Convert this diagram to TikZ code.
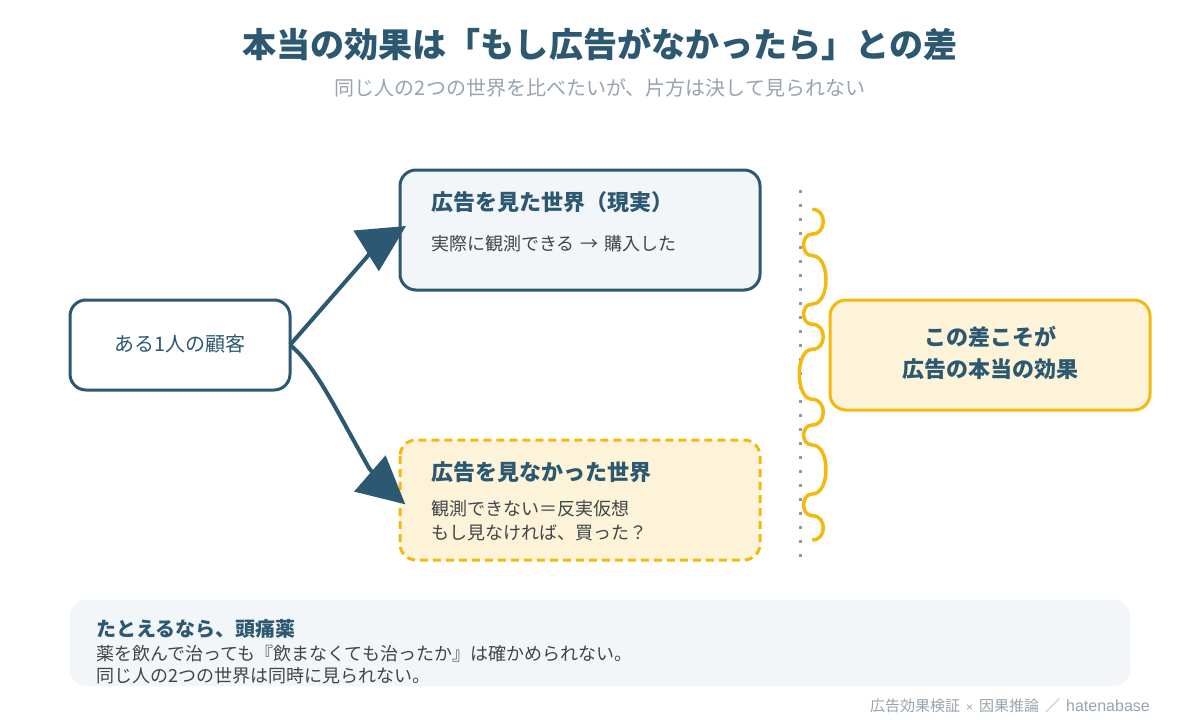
\documentclass[tikz,border=0pt]{standalone}
\usepackage{fontspec}
\setmainfont{Noto Sans CJK JP}
\newfontfamily\latinfoot{Liberation Sans}
\usetikzlibrary{arrows.meta}
\definecolor{navy}{HTML}{2C5871}
\definecolor{amber}{HTML}{F4B90F}
\definecolor{cream}{HTML}{FCF3D9}
\definecolor{mist}{HTML}{F3F6F8}
\definecolor{ink}{HTML}{404549}
\definecolor{subgray}{HTML}{98A4AD}
\definecolor{dotgray}{HTML}{8E9BA5}
\tikzset{
  x=1pt,y=-1pt,
  box/.style={rounded corners=16pt,line width=3pt,inner sep=0pt},
  txt/.style={anchor=base west,inner sep=0pt,text=ink,font=\fontsize{18}{18}\selectfont},
  head/.style={anchor=base west,inner sep=0pt,text=navy,font=\fontsize{22}{22}\selectfont\bfseries},
  keytxt/.style={anchor=base,inner sep=0pt,text=navy,font=\fontsize{22}{22}\selectfont\bfseries},
  link/.style={draw=navy,line width=4pt,-{Triangle[length=47pt,width=47pt,fill=navy]}},
}
\newcommand{\bulge}[3]{.. controls (812.3+#3*1.333,#1) and (812.3+#3*1.333,#2) .. (812.3,#2)}
\begin{document}
\begin{tikzpicture}
\useasboundingbox (0,0) rectangle (1200,720);
\fill[white] (0,0) rectangle (1200,720);
\node[anchor=base,inner sep=0pt,text=navy,font=\fontsize{34.1}{34}\selectfont\bfseries] (title) at (600,57) {本当の効果は「もし広告がなかったら」との差};
\node[anchor=base,inner sep=0pt,text=subgray,font=\fontsize{20}{20}\selectfont] (sub) at (600,95) {同じ人の2つの世界を比べたいが、片方は決して見られない};

\draw[box,draw=navy,fill=white] (70,300) rectangle (290,390);
\coordinate (cust) at (290,345);
\node[anchor=base,inner sep=0pt,text=navy,font=\fontsize{20}{20}\selectfont] (custlabel) at (180,351) {ある1人の顧客};

\draw[box,draw=navy,fill=mist] (400,170) rectangle (760,290);
\coordinate (realtip) at (406,226);
\node[head] (realhead) at (431,210) {広告を見た世界（現実）};
\node[txt] (realbody) at (431,250) {実際に観測できる\hspace{2pt} → \hspace{2pt}購入した};

\draw[box,draw=amber,fill=cream,dash pattern=on 8pt off 5pt] (400,440) rectangle (760,560);
\coordinate (cftip) at (405.3,504.3);
\node[head] (cfhead) at (431,480) {広告を見なかった世界};
\node[txt] (cfbody1) at (431,515) {観測できない＝反実仮想};
\node[txt] (cfbody2) at (431,539) {もし見なければ、買った？};

\draw[link] (cust) -- (366,258) .. controls (372,250) and (382,241) .. (realtip);
\draw[link] (cust) .. controls (315,365) and (335,408) .. (369,468) .. controls (378,480) and (390,491) .. (cftip);

\draw[dotgray,line width=3pt,dash pattern=on 3pt off 11pt] (800,190) -- (800,557);

\draw[amber,line width=3.5pt,line cap=butt] (812.3,209.3)
  \bulge{209.3}{234}{11}
  \bulge{234}{255.7}{-8.7}
  \bulge{255.7}{304}{13.7}
  \bulge{304}{324.3}{-8.7}
  \bulge{324.3}{349.3}{11}
  \bulge{349.3}{399.3}{-13}
  \bulge{399.3}{425}{11}
  \bulge{425}{445}{-8.7}
  \bulge{445}{494}{13.7}
  \bulge{494}{515.7}{-8.7}
  \bulge{515.7}{540}{11};

\draw[box,draw=amber,fill=cream] (830,300) rectangle (1150,410);
\node[keytxt] (k1) at (990,345) {この差こそが};
\node[keytxt] (k2) at (990,377) {広告の本当の効果};

\fill[mist,rounded corners=16pt] (70,600) rectangle (1130,686);
\node[anchor=base west,inner sep=0pt,text=navy,font=\fontsize{20}{20}\selectfont\bfseries] (n1) at (96,636) {たとえるなら、頭痛薬};
\node[txt] (n2) at (96,660) {薬を飲んで治っても『飲まなくても治ったか』は確かめられない。};
\node[txt] (n3) at (96,682) {同じ人の2つの世界は同時に見られない。};

\node[anchor=base east,inner sep=0pt,text=subgray,font=\fontsize{15}{15}\selectfont] (foot) at (1150,711) {広告効果検証\hspace{6pt}{\latinfoot\fontsize{12}{12}\selectfont ×}\hspace{6pt}因果推論\hspace{6pt}／\hspace{6pt}{\latinfoot\fontsize{16}{16}\selectfont hatenabase}};
\end{tikzpicture}
\end{document}
